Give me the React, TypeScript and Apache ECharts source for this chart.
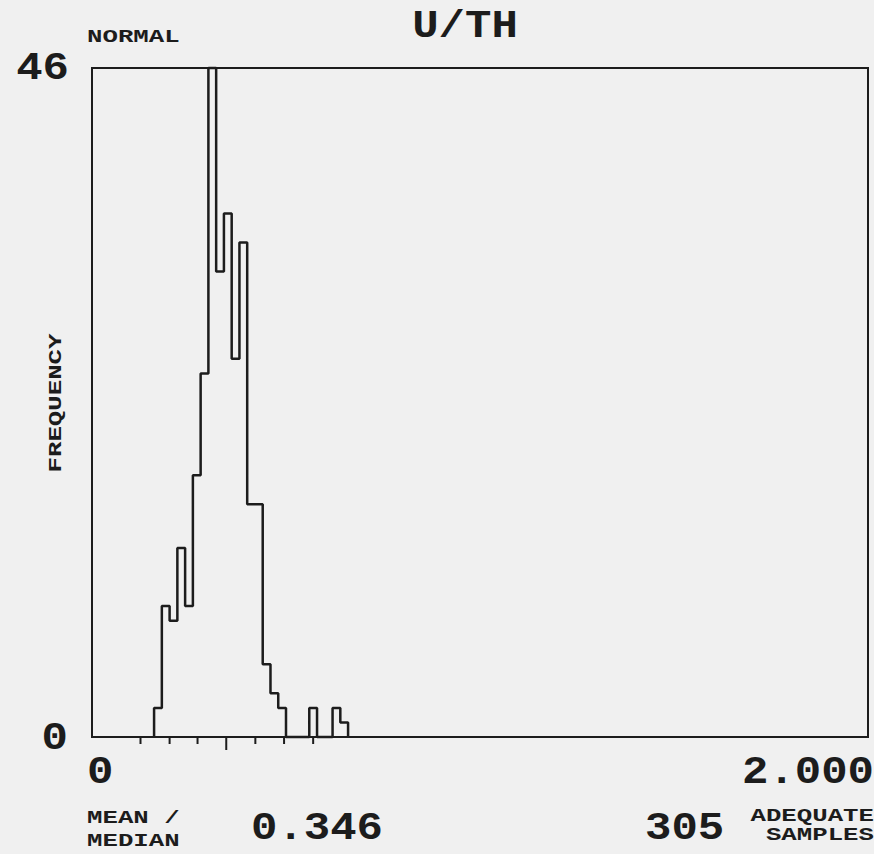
import React, { useEffect, useRef } from "react";
import * as echarts from "echarts";

// ---- data ----
const TITLE = "U/TH";
const DIST_LABEL = "NORMAL";
const Y_TITLE = "FREQUENCY";
const BIN_START = 0.16;
const BIN_WIDTH = 0.02;
const COUNTS = [2, 9, 8, 13, 9, 18, 25, 46, 32, 36, 26, 34, 16, 16, 5, 3, 2, 0, 0, 0, 2, 0, 0, 2, 1];
const X_MIN = 0;
const X_MAX = 2;
const Y_MIN = 0;
const Y_MAX = 46;
const Y_LABELS = ["0", "46"];
const X_LABELS = ["0", "2.000"];
const TICK_VALUES = [0.125, 0.2, 0.272, 0.346, 0.421, 0.495, 0.57];
const MEAN_VALUE = 0.346;
const MEAN_TEXT = "0.346";
const STAT_LABEL = ["MEAN /", "MEDIAN"];
const SAMPLE_COUNT = "305";
const SAMPLE_LABEL = ["ADEQUATE", "SAMPLES"];

const INK = "#1c1c1c";
const PAPER = "#f0f0f0";
const FONT = "Liberation Mono";

function txt(
  text: string,
  x: number,
  y: number,
  size: number,
  sx: number,
  sy: number,
  align: string,
  rotation = 0
) {
  return {
    type: "text",
    x,
    y,
    scaleX: sx,
    scaleY: sy,
    rotation,
    silent: true,
    style: {
      text,
      fontFamily: FONT,
      fontSize: size,
      fontWeight: "bold",
      fill: INK,
      textAlign: align,
      textVerticalAlign: "middle",
    },
  };
}

export default function App() {
  const ref = useRef<HTMLDivElement>(null);

  useEffect(() => {
    if (!ref.current) return;
    const chart = echarts.init(ref.current, undefined, { renderer: "svg" });

    const pts: number[][] = [[BIN_START, 0]];
    COUNTS.forEach((c, i) => {
      const l = BIN_START + i * BIN_WIDTH;
      pts.push([l, c], [l + BIN_WIDTH, c]);
    });
    pts.push([BIN_START + COUNTS.length * BIN_WIDTH, 0]);

    const L = 44, LSX = 1, LSY = 0.87;
    const S = 22, SSX = 1.17, SSY = 0.86;

    chart.setOption({
      animation: false,
      backgroundColor: PAPER,
      grid: {
        left: 92,
        top: 68,
        width: 776,
        height: 669,
        show: true,
        borderColor: INK,
        borderWidth: 2,
        backgroundColor: "transparent",
      },
      xAxis: {
        type: "value",
        min: X_MIN,
        max: X_MAX,
        axisLine: { show: false },
        axisTick: { show: false },
        axisLabel: { show: false },
        splitLine: { show: false },
      },
      yAxis: {
        type: "value",
        min: Y_MIN,
        max: Y_MAX,
        axisLine: { show: false },
        axisTick: { show: false },
        axisLabel: { show: false },
        splitLine: { show: false },
      },
      series: [
        {
          type: "line",
          data: pts,
          showSymbol: false,
          symbol: "none",
          clip: false,
          lineStyle: { color: INK, width: 2.5 },
          silent: true,
        },
        {
          type: "custom",
          data: TICK_VALUES.map((v) => [v, v === MEAN_VALUE ? 13 : 7]),
          silent: true,
          renderItem: (params: any, api: any) => {
            const p = api.coord([api.value(0), 0]);
            const len = api.value(1);
            return {
              type: "line",
              shape: { x1: p[0], y1: p[1], x2: p[0], y2: p[1] + len },
              style: { stroke: INK, lineWidth: 2 },
            };
          },
        },
      ],
      graphic: [
        txt(TITLE, 465, 27, L, LSX, LSY, "center"),
        txt(DIST_LABEL, 87, 37, S, SSX, SSY, "left"),
        txt(Y_LABELS[1], 69, 69, L, LSX, LSY, "right"),
        txt(Y_LABELS[0], 68, 739, L, LSX, LSY, "right"),
        txt(Y_TITLE, 56, 403, S, SSX, SSY, "center", Math.PI / 2),
        txt(X_LABELS[0], 87, 773, L, LSX, LSY, "left"),
        txt(X_LABELS[1], 874, 773, L, LSX, LSY, "right"),
        txt(STAT_LABEL[0], 87, 818, S, SSX, SSY, "left"),
        txt(STAT_LABEL[1], 87, 841, S, SSX, SSY, "left"),
        txt(MEAN_TEXT, 251, 829, L, LSX, LSY, "left"),
        txt(SAMPLE_COUNT, 645, 829, L, LSX, LSY, "left"),
        txt(SAMPLE_LABEL[0], 874, 816, S, SSX, SSY, "right"),
        txt(SAMPLE_LABEL[1], 874, 835, S, SSX, SSY, "right"),
      ],
    });

    return () => chart.dispose();
  }, []);

  return (
    <div
      ref={ref}
      style={{ position: "absolute", left: 0, top: 0, width: 874, height: 854, background: PAPER }}
    />
  );
}
